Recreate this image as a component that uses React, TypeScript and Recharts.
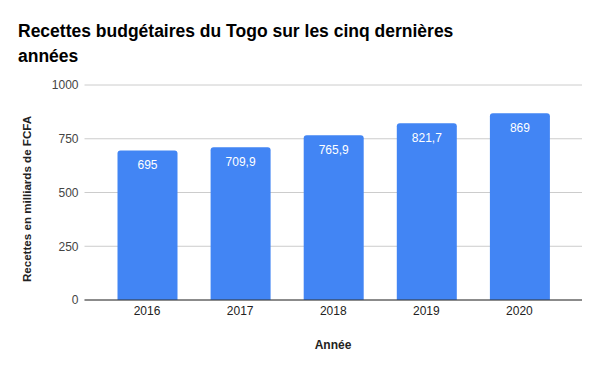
import React from "react";
import { BarChart, Bar, XAxis, YAxis, CartesianGrid, LabelList } from "recharts";

const years = ["2016", "2017", "2018", "2019", "2020"];
const recettes = [695, 709.9, 765.9, 821.7, 869];
const yTicks = [0, 250, 500, 750, 1000];

const data = years.map((y, i) => ({ year: y, value: recettes[i] }));

const FONT = "'Liberation Sans', Arial, sans-serif";

export default function App() {
  return (
    <div style={{ position: "absolute", left: 0, top: 0, width: 600, height: 371, background: "#fff", fontFamily: FONT }}>
      <div style={{ position: "absolute", left: 18, top: 19, width: 460, fontSize: 17.5, fontWeight: "bold", lineHeight: "25px", color: "#000" }}>
        Recettes budgétaires du Togo sur les cinq dernières années
      </div>
      <div style={{ position: "absolute", left: 0, top: 0 }}>
        <BarChart width={600} height={371} data={data} margin={{ top: 85, right: 18, bottom: 41, left: 0 }}>
          <CartesianGrid vertical={false} stroke="#cccccc" />
          <XAxis
            dataKey="year"
            height={30}
            padding={{ left: 16, right: 16 }}
            tickLine={false}
            axisLine={{ stroke: "#333333" }}
            tick={{ fill: "#222222", fontSize: 12, fontFamily: FONT }}
            tickMargin={0}
          />
          <YAxis
            width={84.5}
            domain={[0, 1000]}
            ticks={yTicks}
            axisLine={false}
            tickLine={false}
            tick={{ fill: "#444444", fontSize: 12, fontFamily: FONT }}
            tickMargin={0}
          />
          <Bar dataKey="value" fill="#4285f4" barSize={60} radius={[3, 3, 0, 0]} isAnimationActive={false}>
            <LabelList
              dataKey="value"
              position="insideTop"
              offset={10}
              fill="#ffffff"
              fontSize={12}
              fontFamily={FONT}
              formatter={(v: any) => String(v).replace(".", ",")}
            />
          </Bar>
        </BarChart>
      </div>
      <div style={{ position: "absolute", left: 333, top: 345, transform: "translate(-50%, -50%)", fontSize: 12, fontWeight: "bold", color: "#222" }}>
        Année
      </div>
      <div style={{ position: "absolute", left: 26, top: 199, transform: "translate(-50%, -50%) rotate(-90deg)", fontSize: 11.6, fontWeight: "bold", color: "#222", whiteSpace: "nowrap" }}>
        Recettes en milliards de FCFA
      </div>
    </div>
  );
}
